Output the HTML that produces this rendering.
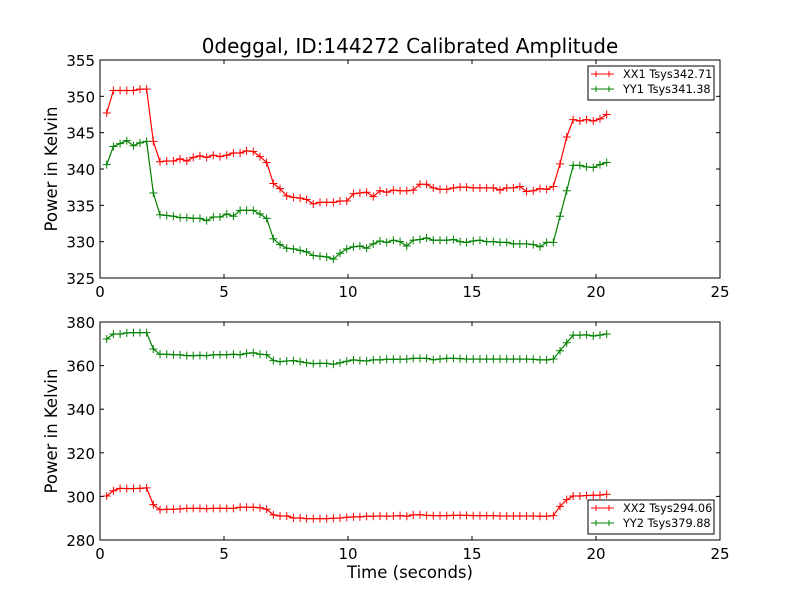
<!DOCTYPE html>
<html><head><meta charset="utf-8"><style>
html,body{margin:0;padding:0;background:#fff;}
svg{display:block;font-family:"DejaVu Sans","Liberation Sans",sans-serif;}
</style></head><body>
<svg id="chart" width="800" height="600" viewBox="0 0 800 600" xmlns="http://www.w3.org/2000/svg">
<rect width="800" height="600" fill="#fff"/>
</svg>
<script>
const times = [0.27,0.54,0.81,1.08,1.35,1.61,1.88,2.15,2.42,2.69,2.96,3.23,3.50,3.76,4.03,4.30,4.57,4.84,5.11,5.38,5.65,5.91,6.18,6.45,6.72,6.99,7.26,7.53,7.80,8.07,8.33,8.60,8.87,9.14,9.41,9.68,9.95,10.22,10.48,10.75,11.02,11.29,11.56,11.83,12.10,12.37,12.63,12.90,13.17,13.44,13.71,13.98,14.25,14.52,14.78,15.05,15.32,15.59,15.86,16.13,16.40,16.67,16.93,17.20,17.47,17.74,18.01,18.28,18.55,18.82,19.08,19.35,19.62,19.89,20.16,20.43];
const xx1 = [347.7,350.8,350.8,350.8,350.8,351.0,351.0,343.8,341.0,341.1,341.1,341.4,341.1,341.6,341.8,341.6,341.9,341.7,341.9,342.2,342.2,342.5,342.4,341.7,340.9,338.0,337.3,336.3,336.1,336.0,335.8,335.2,335.4,335.4,335.4,335.6,335.6,336.6,336.7,336.8,336.2,337.0,336.8,337.1,337.0,337.0,337.1,337.9,337.9,337.4,337.2,337.2,337.4,337.5,337.5,337.4,337.4,337.4,337.4,337.1,337.4,337.4,337.6,336.9,337.0,337.3,337.2,337.6,340.7,344.4,346.8,346.6,346.8,346.6,346.9,347.5];
const yy1 = [340.6,343.1,343.5,343.9,343.2,343.6,343.8,336.7,333.7,333.6,333.5,333.3,333.3,333.2,333.2,332.9,333.4,333.4,333.8,333.5,334.3,334.3,334.3,333.8,333.2,330.4,329.6,329.1,329.0,328.8,328.6,328.1,328.0,327.9,327.6,328.4,329.0,329.3,329.4,329.1,329.7,330.1,329.9,330.2,330.0,329.4,330.2,330.3,330.5,330.2,330.2,330.2,330.3,330.0,329.9,330.1,330.2,330.0,330.0,329.9,329.9,329.7,329.7,329.7,329.6,329.3,329.9,329.9,333.5,337.0,340.5,340.5,340.3,340.2,340.6,340.9];
const xx2 = [300.2,302.6,303.7,303.6,303.6,303.7,303.9,296.2,293.9,294.1,294.1,294.3,294.5,294.5,294.5,294.4,294.5,294.5,294.5,294.5,295.0,295.0,295.0,294.8,294.1,291.5,291.0,291.0,290.1,290.1,289.8,289.8,289.8,289.8,290.0,290.1,290.4,290.6,290.6,290.9,290.9,291.0,290.9,291.0,291.2,290.9,291.5,291.6,291.3,291.2,291.2,291.2,291.3,291.3,291.3,291.2,291.2,291.2,291.2,291.0,291.0,291.0,291.0,291.0,291.0,290.9,290.9,291.2,295.4,298.5,300.2,300.2,300.4,300.5,300.6,301.0];
const yy2 = [372.2,374.5,374.5,375.0,375.1,375.1,375.1,367.6,365.2,365.2,365.0,364.9,364.6,364.6,364.7,364.6,364.9,365.0,365.0,365.2,365.0,365.6,365.9,365.2,365.0,362.3,361.8,362.1,362.3,361.8,361.3,360.9,361.0,361.0,360.6,361.3,362.0,362.6,362.3,362.1,362.6,362.6,362.9,362.9,362.9,363.0,363.3,363.3,363.3,362.7,363.0,363.3,363.3,363.2,363.0,363.0,363.0,363.0,363.0,363.0,363.0,363.0,363.0,363.0,362.9,362.6,362.6,363.0,366.8,370.5,374.0,374.0,374.1,373.6,374.0,374.5];
const xTicks = [0,5,10,15,20,25];
const topYTicks = [325,330,335,340,345,350,355];
const botYTicks = [280,300,320,340,360,380];
const topLegend = ["XX1 Tsys342.71","YY1 Tsys341.38"];
const botLegend = ["XX2 Tsys294.06","YY2 Tsys379.88"];

const NS = "http://www.w3.org/2000/svg";
const svg = document.getElementById('chart');
function mk(tag, attrs, parent){const e=document.createElementNS(NS,tag);for(const k in attrs)e.setAttribute(k,attrs[k]);(parent||svg).appendChild(e);return e;}
function txt(s, attrs, parent){const e=mk('text',attrs,parent);e.textContent=s;return e;}

const L=100,R=720;
function xScale(v){return L+(v-0)/(25-0)*(R-L);}

function panel(name, top, bottom, ymin, ymax, yTicks, s1, s2, legendLabels, legY){
  const g=mk('g',{});
  
  
  const yScale=v=>bottom-(v-ymin)/(ymax-ymin)*(bottom-top);
  xTicks.forEach(t=>{
    const x=xScale(t);
    mk('line',{x1:x,x2:x,y1:bottom,y2:bottom-4,stroke:'#000','stroke-width':1},g);
    mk('line',{x1:x,x2:x,y1:top,y2:top+4,stroke:'#000','stroke-width':1},g);
    const lb=txt(String(t),{x:x,y:bottom+19,'font-size':15,'text-anchor':'middle',fill:'#000'},g);
    
    
  });
  yTicks.forEach(t=>{
    const y=yScale(t);
    mk('line',{x1:L,x2:L+4,y1:y,y2:y,stroke:'#000','stroke-width':1},g);
    mk('line',{x1:R,x2:R-4,y1:y,y2:y,stroke:'#000','stroke-width':1},g);
    const lb=txt(String(t),{x:L-5,y:y+6,'font-size':15,'text-anchor':'end',fill:'#000'},g);
    
    
  });
  const series=[[s1,'#ff0000'],[s2,'#008000']];
  series.forEach(([vals,col],si)=>{
    const sg=mk('g',{},g);
    
    
    const pts=vals.map((v,i)=>xScale(times[i]).toFixed(1)+','+yScale(v).toFixed(1)).join(' ');
    const pl=mk('polyline',{points:pts,fill:'none',stroke:col,'stroke-width':1.2},sg);
    
    
    vals.forEach((v,i)=>{
      const x=xScale(times[i]),y=yScale(v);
      const m=mk('path',{d:`M${x-4},${y}H${x+4}M${x},${y-4}V${y+4}`,stroke:col,'stroke-width':1},sg);
      
      
    });
  });
  const fr=mk('rect',{x:L,y:top,width:R-L,height:bottom-top,fill:'none',stroke:'#000','stroke-width':1},g);
  
  
  const yl=txt('Power in Kelvin',{x:0,y:0,'font-size':16.5,'text-anchor':'middle',fill:'#000',transform:`translate(57,${(top+bottom)/2}) rotate(-90)`},g);
  
  
  const lg=mk('g',{},g);
  
  
  mk('rect',{x:588,y:legY,width:126,height:34,fill:'#fff',stroke:'#000','stroke-width':1},lg);
  legendLabels.forEach((lab,i)=>{
    const y=legY+8+i*15;
    const col=i===0?'#ff0000':'#008000';
    const e=mk('g',{},lg);
    
    
    mk('path',{d:`M591,${y}H614M596,${y-3}V${y+3}M609,${y-3}V${y+3}`,stroke:col,'stroke-width':1},e);
    txt(lab,{x:623,y:y+4,'font-size':11.3,fill:'#000'},e);
  });
}
panel('top-panel',60,278,325,355,topYTicks,xx1,yy1,topLegend,66);
panel('bottom-panel',322,540,280,380,botYTicks,xx2,yy2,botLegend,500);

const title=txt('0deggal, ID:144272 Calibrated Amplitude',{x:410,y:53,'font-size':20,'text-anchor':'middle',fill:'#000'});


const xl=txt('Time (seconds)',{x:410,y:578,'font-size':16.5,'text-anchor':'middle',fill:'#000'});


</script>
</body></html>
